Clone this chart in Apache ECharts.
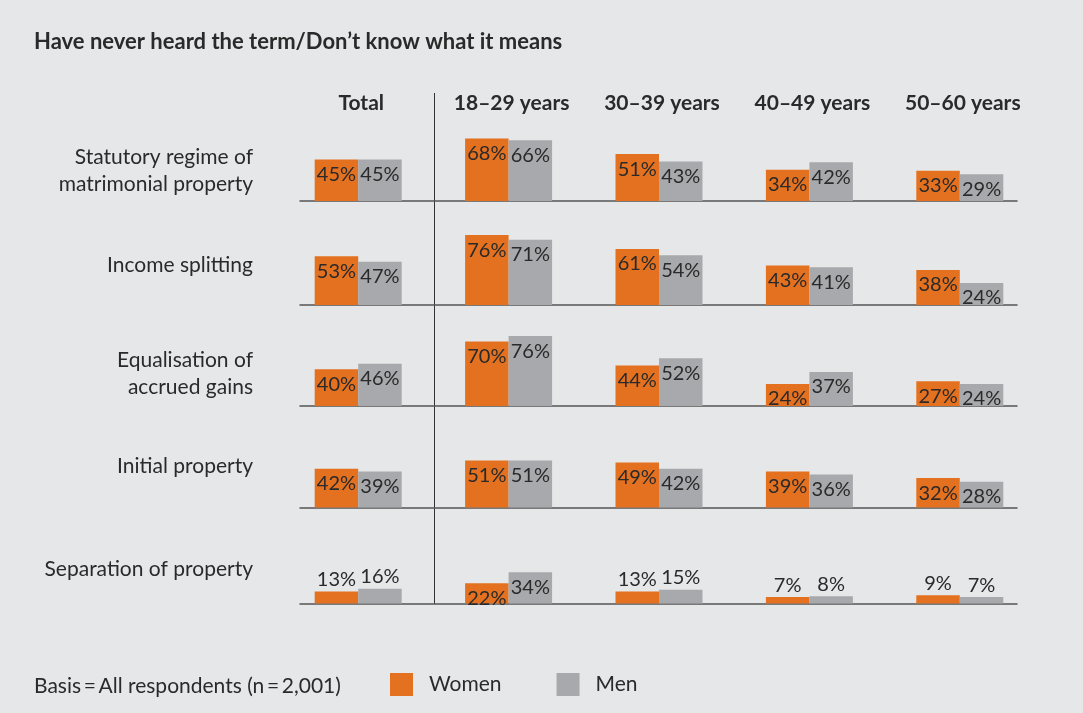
<!DOCTYPE html>
<html>
<head>
<meta charset="utf-8">
<script src="https://cdn.jsdelivr.net/npm/echarts@6/dist/echarts.min.js"></script>
<style>
  html, body { margin: 0; padding: 0; background: #e6e7e8; }
  #chart { width: 1083px; height: 713px; }
</style>
</head>
<body>
<div id="chart"></div>
<script>
// Terms asked about (one row each)
const terms = [
  'Statutory regime of\nmatrimonial property',
  'Income splitting',
  'Equalisation of\naccrued gains',
  'Initial property',
  'Separation of property'
];
// Respondent groups (one column each)
const groups = ['Total', '18–29 years', '30–39 years', '40–49 years', '50–60 years'];
// Share who never heard the term / don't know it, in %, per term row
const women = [
  [45, 68, 51, 34, 33],
  [53, 76, 61, 43, 38],
  [40, 70, 44, 24, 27],
  [42, 51, 49, 39, 32],
  [13, 22, 13, 7, 9]
];
const men = [
  [45, 66, 43, 42, 29],
  [47, 71, 54, 41, 24],
  [46, 76, 52, 37, 24],
  [39, 51, 42, 36, 28],
  [16, 34, 15, 8, 7]
];
const legendNames = ['Women', 'Men'];
const titleText = 'Have never heard the term/Don’t know what it means';
const basisText = 'Basis\u2009=\u2009All respondents (n\u2009=\u20092,001)';

// Layout
const FONT = 'Lato, "Noto Sans", sans-serif';
const TEXT = '#2a2a2a';
const ORANGE = '#e4711f';
const GREY = '#a8a9ac';
const baselines = [201, 305, 406, 507.5, 603.5];
const labelCenters = [171, 265, 374, 466, 569];
const ROW_H = 92;            // pixels for 100 %
const DATA_LEFT = 283, DATA_W = 752;
const RULE_LEFT = 300, RULE_W = 717;

const grids = [], xAxes = [], yAxes = [], series = [], graphics = [];

function valueLabel(v) {
  const small = v < 20;
  return {
    show: true,
    position: small ? 'top' : 'insideTop',
    distance: small ? 2 : 5,
    formatter: '{c}%',
    color: TEXT,
    fontFamily: FONT,
    fontSize: 20
  };
}

terms.forEach((term, r) => {
  const top = baselines[r] - ROW_H;
  // bar grid
  grids.push({ left: DATA_LEFT, width: DATA_W, top: top, height: ROW_H });
  const gi = grids.length - 1;
  xAxes.push({
    gridIndex: gi,
    type: 'category',
    data: groups,
    position: 'top',
    show: r === 0,
    axisLine: { show: false },
    axisTick: { show: false },
    axisLabel: {
      show: r === 0,
      margin: 6,
      verticalAlign: 'middle',
      color: TEXT,
      fontFamily: FONT,
      fontWeight: 'bold',
      fontSize: 21,
      padding: [0, 0, 0, 6]
    }
  });
  yAxes.push({ gridIndex: gi, type: 'value', min: 0, max: 100, show: false });
  [women, men].forEach((src, k) => {
    series.push({
      name: legendNames[k],
      type: 'bar',
      xAxisIndex: gi,
      yAxisIndex: gi,
      barWidth: 43.5,
      barGap: '0%',
      itemStyle: { color: k === 0 ? ORANGE : GREY },
      data: src[r].map(v => ({ value: v, label: valueLabel(v) })),
      silent: true
    });
  });

  // baseline rule of the row
  grids.push({ left: RULE_LEFT, width: RULE_W, top: top, height: ROW_H });
  const ri = grids.length - 1;
  xAxes.push({
    gridIndex: ri,
    type: 'value',
    min: 0, max: 1,
    axisLine: { show: true, lineStyle: { color: '#555', width: 1.5 } },
    axisTick: { show: false },
    axisLabel: { show: false },
    splitLine: { show: false }
  });
  yAxes.push({ gridIndex: ri, type: 'value', min: 0, max: 1, show: false });

  // row label
  graphics.push({
    type: 'text',
    x: 253,
    y: labelCenters[r],
    style: {
      text: term,
      align: 'right',
      verticalAlign: 'middle',
      lineHeight: 27,
      fill: TEXT,
      font: '21px ' + FONT
    }
  });
});

// divider between total and age groups
graphics.push({
  type: 'line',
  shape: { x1: 434.5, y1: 93, x2: 434.5, y2: 604 },
  style: { stroke: '#333', lineWidth: 1 }
});
// basis note
graphics.push({
  type: 'text',
  x: 34,
  y: 686,
  style: { text: basisText, verticalAlign: 'middle', fill: TEXT, font: '21px ' + FONT }
});

const chart = echarts.init(document.getElementById('chart'), null, { renderer: 'canvas' });
chart.setOption({
  backgroundColor: '#e6e7e8',
  animation: false,
  title: {
    text: titleText,
    left: 34,
    top: 31,
    padding: 0,
    textStyle: { color: TEXT, fontFamily: FONT, fontWeight: 'bold', fontSize: 22 }
  },
  legend: {
    data: legendNames,
    left: 390,
    top: 673,
    padding: 0,
    icon: 'rect',
    itemWidth: 23,
    itemHeight: 23,
    itemGap: 55,
    selectedMode: false,
    textStyle: { color: TEXT, fontFamily: FONT, fontSize: 21, padding: [0, 0, 0, 11] }
  },
  grid: grids,
  xAxis: xAxes,
  yAxis: yAxes,
  series: series,
  graphic: graphics
});
</script>
</body>
</html>
